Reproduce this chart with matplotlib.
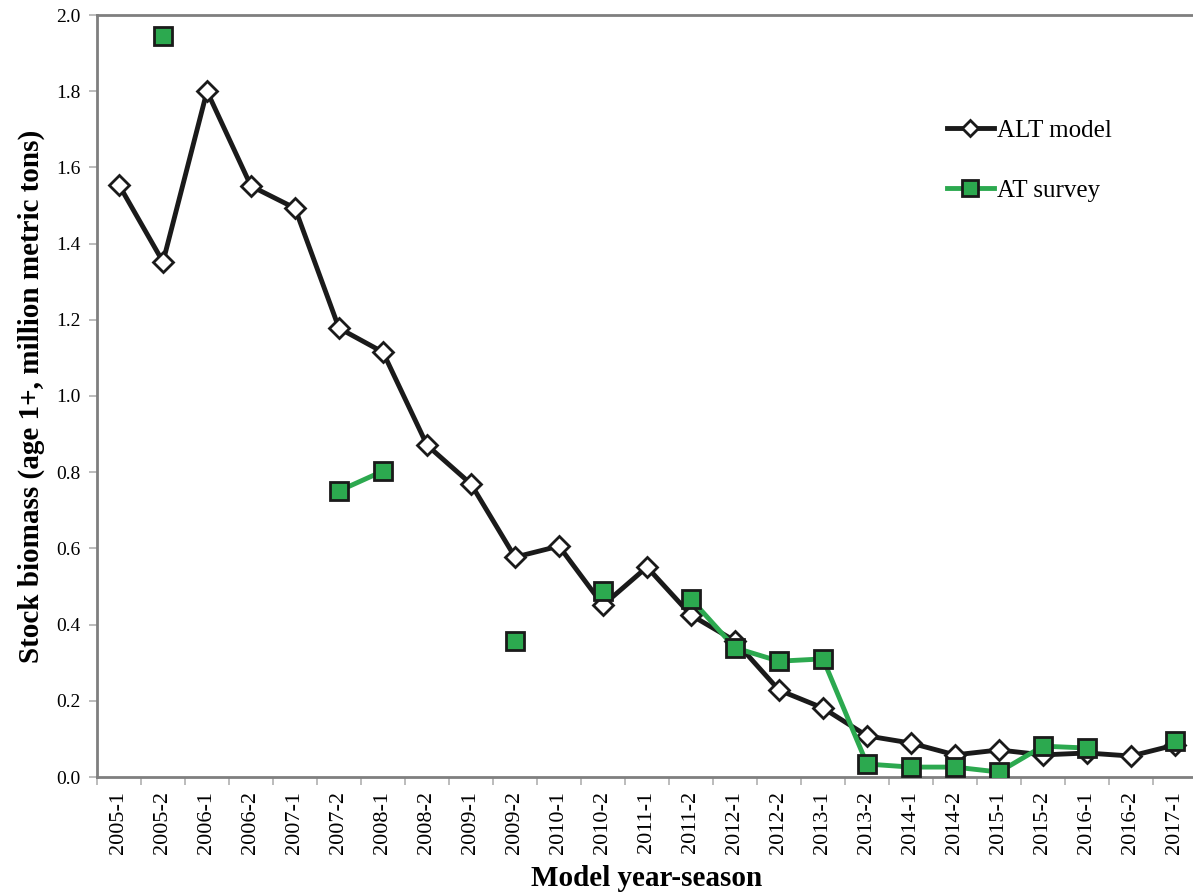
import numpy as np
import matplotlib
matplotlib.use("Agg")
import matplotlib.pyplot as plt
from matplotlib.ticker import FixedLocator

plt.rcParams["font.family"] = ["Liberation Serif", "DejaVu Serif"]

seasons = ["2005-1", "2005-2", "2006-1", "2006-2", "2007-1", "2007-2", "2008-1", "2008-2",
           "2009-1", "2009-2", "2010-1", "2010-2", "2011-1", "2011-2", "2012-1", "2012-2",
           "2013-1", "2013-2", "2014-1", "2014-2", "2015-1", "2015-2", "2016-1", "2016-2",
           "2017-1"]
alt_model = [1.554, 1.352, 1.800, 1.551, 1.493, 1.178, 1.115, 0.871, 0.769, 0.577,
             0.606, 0.451, 0.551, 0.425, 0.357, 0.228, 0.181, 0.108, 0.089, 0.058,
             0.071, 0.058, 0.063, 0.055, 0.084]
nan = np.nan
at_survey = [nan, 1.945, nan, nan, nan, 0.751, 0.803, nan, nan, 0.357,
             nan, 0.488, nan, 0.467, 0.339, 0.304, 0.310, 0.034, 0.026, 0.026,
             0.013, 0.081, 0.076, nan, 0.094]

x = np.arange(len(seasons))
spine_col = "#7f7f7f"

fig = plt.figure(figsize=(11.93, 8.94), dpi=100)
ax = fig.add_axes([97 / 1193, 1 - 777 / 894, 1100 / 1193, (777 - 15) / 894])

ax.plot(x, alt_model, color="#1a1a1a", lw=3.5, marker="D", ms=10, mfc="white",
        mec="#1a1a1a", mew=2, label="ALT model", zorder=3)
ax.plot(x, at_survey, color="#2ca94f", lw=3.5, marker="s", ms=13, mfc="#2ca94f",
        mec="#1a1a1a", mew=2, label="AT survey", zorder=4)

ax.set_xlim(-0.5, len(seasons) - 0.5)
ax.set_ylim(0, 2.0)
yt = np.arange(0, 2.01, 0.2)
ax.set_yticks(yt)
ax.set_yticklabels([f"{v:.1f}" for v in yt], fontsize=14)
ax.set_xticks(x)
ax.set_xticklabels(seasons, rotation=90, fontsize=16)
ax.xaxis.set_minor_locator(FixedLocator(np.arange(-0.5, len(seasons), 1.0)))
ax.tick_params(axis="x", which="major", length=0, pad=10)
ax.tick_params(axis="x", which="minor", length=6, width=1.2, color="#b0b0b0", direction="out")
ax.tick_params(axis="y", length=6, width=1.2, color="#b0b0b0", direction="out", pad=6)

for s in ax.spines.values():
    s.set_color(spine_col)
    s.set_linewidth(2)

ax.set_ylabel("Stock biomass (age 1+, million metric tons)", fontsize=21,
              fontweight="bold", labelpad=8)
ax.set_xlabel("Model year-season", fontsize=21, fontweight="bold", labelpad=8)

ax.legend(loc="upper left", bbox_to_anchor=(0.752, 0.893), frameon=False, fontsize=18,
          handlelength=1.9, handletextpad=0.1, labelspacing=1.5, markerscale=0.85)

fig.savefig("out.png", dpi=100)
